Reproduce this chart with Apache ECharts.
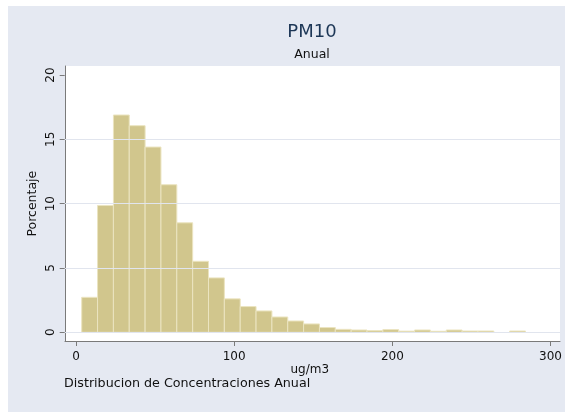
<!DOCTYPE html>
<html>
<head>
<meta charset="utf-8">
<script src="https://cdn.jsdelivr.net/npm/echarts@6/dist/echarts.min.js"></script>
<style>
  html, body { margin: 0; padding: 0; background: #ffffff; width: 565px; height: 412px; overflow: hidden; }
  #chart { position: absolute; left: 8px; top: 6px; width: 557px; height: 406px; }
</style>
</head>
<body>
<div id="chart"></div>
<script>
// ---- data ----
const binStarts = [3.6, 13.6, 23.6, 33.6, 43.6, 53.6, 63.6, 73.6, 83.6, 93.6,
                   103.6, 113.6, 123.6, 133.6, 143.6, 153.6, 163.6, 173.6, 183.6, 193.6,
                   203.6, 213.6, 223.6, 233.6, 243.6, 253.6, 263.6, 273.6];
const binWidth = 10;
const percents = [2.72, 9.86, 16.89, 16.06, 14.40, 11.47, 8.51, 5.52, 4.23, 2.60,
                  2.00, 1.66, 1.19, 0.88, 0.65, 0.37, 0.23, 0.18, 0.13, 0.21,
                  0.09, 0.18, 0.08, 0.18, 0.10, 0.10, 0.00, 0.10];
const xTicks = [0, 100, 200, 300];
const yTicks = [0, 5, 10, 15, 20];
const gridLineValues = [0, 5, 10, 15];
const titleText = 'PM10';
const subtitleText = 'Anual';
const noteText = 'Distribucion de Concentraciones Anual';
const xTitle = 'ug/m3';
const yTitle = 'Porcentaje';

// ---- build ----
const histData = binStarts.map((s, i) => [s, s + binWidth, percents[i]]);
const FONT = 'DejaVu Sans';
const axisGray = '#7a7a7a';

const chart = echarts.init(document.getElementById('chart'), null, { renderer: 'canvas' });
chart.setOption({
  backgroundColor: '#e5e9f2',
  animation: false,
  title: [
    { text: titleText, left: 304, top: 17, textAlign: 'center', padding: 0,
      textStyle: { fontFamily: FONT, fontSize: 18, fontWeight: 'normal', color: '#1c3656' } },
    { text: subtitleText, left: 304, top: 42, textAlign: 'center', padding: 0,
      textStyle: { fontFamily: FONT, fontSize: 12.5, fontWeight: 'normal', color: '#111' } },
    { text: noteText, left: 56, top: 371.5, padding: 0,
      textStyle: { fontFamily: FONT, fontSize: 12.7, fontWeight: 'normal', color: '#111' } }
  ],
  grid: [
    // ticks / labels grid (exact data span)
    { left: 68, right: 13.5, top: 69, bottom: 79.7, show: false },
    // plot region (white background, bars, axis lines)
    { left: 57, right: 5, top: 60, bottom: 71, show: true, backgroundColor: '#ffffff', borderWidth: 0 }
  ],
  xAxis: [
    { gridIndex: 0, type: 'value', min: xTicks[0], max: xTicks[xTicks.length - 1], interval: 100,
      offset: 8.7,
      axisLine: { show: false, onZero: false },
      axisTick: { show: true, length: 5, lineStyle: { color: axisGray } },
      splitLine: { show: false },
      axisLabel: { margin: 10, fontFamily: FONT, fontSize: 12, color: '#111' },
      name: xTitle, nameLocation: 'middle', nameGap: 23, nameMoveOverlap: false,
      nameTextStyle: { fontFamily: FONT, fontSize: 12, color: '#111', padding: [0, 7, 0, 0] } },
    { gridIndex: 1, type: 'value', min: -6.94, max: 305.36,
      axisLine: { show: true, onZero: false, lineStyle: { color: axisGray, width: 1 } },
      axisTick: { show: false }, axisLabel: { show: false }, splitLine: { show: false } }
  ],
  yAxis: [
    { gridIndex: 0, type: 'value', min: yTicks[0], max: yTicks[yTicks.length - 1], interval: 5,
      offset: 11.3,
      axisLine: { show: false, onZero: false },
      axisTick: { show: true, length: 5, lineStyle: { color: axisGray } },
      splitLine: { show: false },
      axisLabel: { rotate: 90, margin: 8, fontFamily: FONT, fontSize: 12, color: '#111' },
      name: yTitle, nameLocation: 'middle', nameRotate: 90, nameGap: 25, nameMoveOverlap: false,
      nameTextStyle: { fontFamily: FONT, fontSize: 12.5, color: '#111' } },
    { gridIndex: 1, type: 'value', min: -0.676, max: 20.70,
      axisLine: { show: true, onZero: false, lineStyle: { color: axisGray, width: 1 } },
      axisTick: { show: false }, axisLabel: { show: false }, splitLine: { show: false } }
  ],
  series: [
    { type: 'line', xAxisIndex: 1, yAxisIndex: 1, z: 1, silent: true,
      data: [[0, 0]], showSymbol: false, symbol: 'none', lineStyle: { opacity: 0 },
      markLine: { silent: true, symbol: ['none', 'none'], label: { show: false },
        lineStyle: { color: '#e1e5ee', width: 1, type: 'solid' },
        data: gridLineValues.map(v => ({ yAxis: v })) } },
    { type: 'custom', xAxisIndex: 1, yAxisIndex: 1, z: 3,
      data: histData,
      renderItem: function (params, api) {
        const v = api.value(2);
        if (!v) return null;
        const p0 = api.coord([api.value(0), v]);
        const p1 = api.coord([api.value(1), 0]);
        return {
          type: 'rect',
          shape: { x: p0[0], y: p0[1], width: p1[0] - p0[0], height: p1[1] - p0[1] },
          style: { fill: '#d1c68d', stroke: '#ebe4c0', lineWidth: 1 }
        };
      } }
  ]
});
</script>
</body>
</html>
